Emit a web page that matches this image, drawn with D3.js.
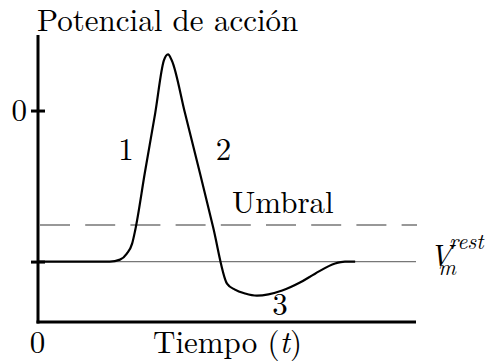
<!DOCTYPE html>
<html>
<head>
<meta charset="utf-8">
<script src="https://cdn.jsdelivr.net/npm/d3@7"></script>
<style>
  body { margin: 0; background: #fff; }
  svg text { font-family: "Latin Modern Roman", "Liberation Serif", serif; fill: #000; }
</style>
</head>
<body>
<div id="chart"></div>
<script>
// tiempo (ms) y potencial (mV) del trazo
const tiempo = [0, 1.90, 2.17, 2.35, 2.49, 2.57, 2.83, 3.10, 3.33, 3.44, 3.54, 3.89, 4.29, 4.63, 5.00, 5.21, 5.48, 5.79, 6.46, 6.93, 7.33, 7.86, 8.12, 8.39];
const potencial = [-70, -70, -69.1, -66.3, -61.7, -55.6, -28.5, -1.3, 23.2, 26.0, 23.2, -1.3, -29.4, -53.9, -80.2, -83.0, -84.8, -85.8, -83.4, -79.7, -75.6, -70.9, -70, -70];
const vRest = -70;
const vUmbral = -53;
const yTicks = [0, -70];
const fases = [
  { label: '1', t: 2.33, v: -22.7 },
  { label: '2', t: 4.91, v: -22.7 },
  { label: '3', t: 6.40, v: -94.6 }
];

const FONT = '"Latin Modern Roman", "Liberation Serif", serif';
const FS = '31px';

function render() {
  const W = 492, H = 364;
  const svg = d3.select('#chart').append('svg').attr('width', W).attr('height', H);

  const x = d3.scaleLinear().domain([0, 10]).range([38, 416]);
  const y = d3.scaleLinear().domain([-98, 35]).range([322, 35]);

  // reposo y umbral
  svg.append('line').attr('x1', x(0)).attr('x2', 416).attr('y1', y(vRest)).attr('y2', y(vRest))
    .attr('stroke', '#777').attr('stroke-width', 1.2);
  svg.append('line').attr('x1', 40).attr('x2', 417).attr('y1', y(vUmbral)).attr('y2', y(vUmbral))
    .attr('stroke', '#777').attr('stroke-width', 1.5).attr('stroke-dasharray', '30,15.2');

  // ejes
  const yAxis = svg.append('g').attr('transform', `translate(${x(0)},0)`)
    .call(d3.axisLeft(y).tickValues(yTicks).tickSize(0).tickPadding(11).tickFormat(d => d === 0 ? '0' : ''));
  yAxis.attr('font-family', FONT);
  yAxis.select('.domain').remove();
  yAxis.selectAll('.tick line').attr('x1', -7).attr('x2', 7).attr('stroke', '#000').attr('stroke-width', 3);
  yAxis.selectAll('.tick text').style('font-size', FS).attr('dy', '0.33em');

  const xAxis = svg.append('g').attr('transform', `translate(0,${y(-98)})`)
    .call(d3.axisBottom(x).tickValues([0]).tickSize(0).tickPadding(9).tickFormat(d3.format('d')));
  xAxis.attr('font-family', FONT);
  xAxis.select('.domain').remove();
  xAxis.selectAll('.tick text').style('font-size', FS).attr('dy', '0.71em').attr('dx', '-1');

  svg.append('line').attr('x1', x(0)).attr('x2', x(0)).attr('y1', y(35)).attr('y2', y(-98) + 1.5)
    .attr('stroke', '#000').attr('stroke-width', 3);
  svg.append('line').attr('x1', x(0) - 1.5).attr('x2', 416).attr('y1', y(-98)).attr('y2', y(-98))
    .attr('stroke', '#000').attr('stroke-width', 3);

  // potencial de acción
  const pts = tiempo.map((t, i) => [t, potencial[i]]);
  const line = d3.line().x(d => x(d[0])).y(d => y(d[1])).curve(d3.curveMonotoneX);
  svg.append('path').attr('d', line(pts)).attr('fill', 'none').attr('stroke', '#000')
    .attr('stroke-width', 2.2).attr('stroke-linejoin', 'round');

  // textos
  svg.append('text').attr('x', 37).attr('y', 31).style('font-size', FS).text('Potencial de acción');

  const tl = svg.append('text').attr('x', 153).attr('y', 353).style('font-size', FS);
  tl.append('tspan').text('Tiempo (');
  tl.append('tspan').style('font-style', 'italic').text('t');
  tl.append('tspan').text(')');

  svg.append('text').attr('x', 232).attr('y', 213).style('font-size', FS).text('Umbral');

  svg.selectAll('text.fase').data(fases).enter().append('text').attr('class', 'fase')
    .attr('x', d => x(d.t)).attr('y', d => y(d.v)).attr('text-anchor', 'middle')
    .style('font-size', FS).text(d => d.label);

  const vl = svg.append('g').attr('transform', `translate(429,${y(vRest) + 4})`);
  vl.append('text').style('font-size', FS).style('font-style', 'italic').text('V');
  vl.append('text').attr('x', 20).attr('y', -17).style('font-size', '22px').style('font-style', 'italic').text('rest');
  vl.append('text').attr('x', 9).attr('y', 9).style('font-size', '22px').style('font-style', 'italic').text('m');
}

render();
</script>
</body>
</html>
